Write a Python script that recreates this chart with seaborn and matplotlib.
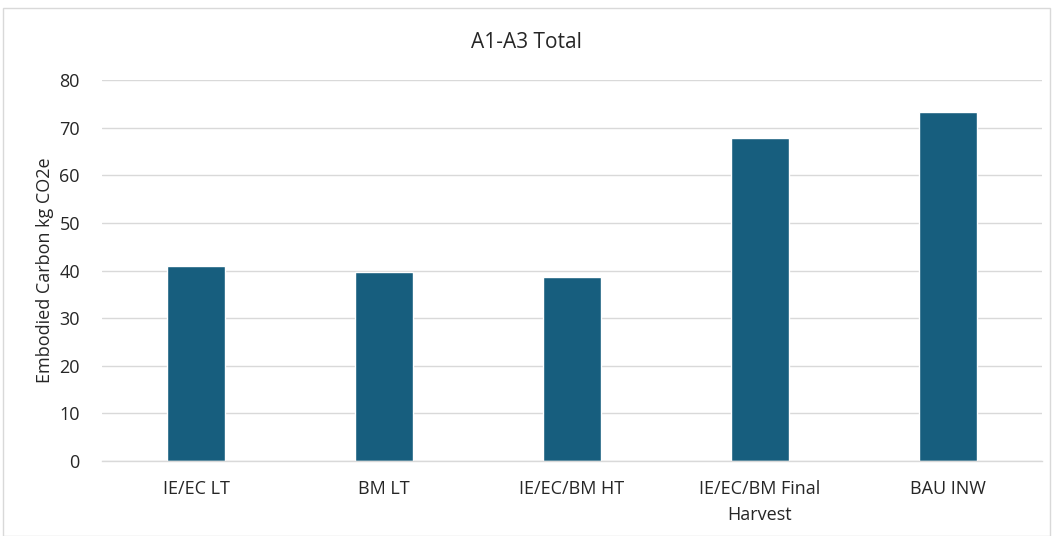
import pandas as pd
import seaborn as sns
import matplotlib.pyplot as plt
from matplotlib.patches import Rectangle

# ===================== DATA =====================
categories = ["IE/EC LT", "BM LT", "IE/EC/BM HT", "IE/EC/BM Final\nHarvest", "BAU INW"]
values = [41.0, 39.6, 38.6, 67.8, 73.2]
yticks = [0, 10, 20, 30, 40, 50, 60, 70, 80]

df = pd.DataFrame({"scenario": categories, "co2e": values})

# ===================== STYLE =====================
sns.set_style("white")
plt.rcParams["font.family"] = ["Open Sans", "DejaVu Sans"]

fig = plt.figure(figsize=(10.53, 5.36), dpi=100)
ax = fig.add_axes([0.0969, 0.1399, 0.8927, 0.7108])

sns.barplot(data=df, x="scenario", y="co2e", color="#175E7E",
            width=0.31, saturation=1, ax=ax)

ax.set_ylim(0, 80)
ax.set_xlim(-0.5, len(categories) - 0.5)
ax.set_yticks(yticks)
ax.yaxis.grid(True, color="#d9d9d9", linewidth=1)
ax.set_axisbelow(True)
for side in ["top", "right", "left"]:
    ax.spines[side].set_visible(False)
ax.spines["bottom"].set_color("#d9d9d9")
ax.spines["bottom"].set_linewidth(1)
ax.tick_params(axis="both", length=0, labelsize=13, colors="#262626")
ax.tick_params(axis="x", pad=14)
ax.tick_params(axis="y", pad=16)
for lbl in ax.get_xticklabels():
    lbl.set_multialignment("center")
    lbl.set_linespacing(1.55)
ax.set_xlabel("")
ax.set_ylabel("Embodied Carbon kg CO2e", fontsize=13, color="#262626", labelpad=4)
fig.suptitle("A1-A3 Total", y=0.94, fontsize=15, color="#262626")

# light chart-area border
fig.patches.append(Rectangle((0.003, 0.0), 0.994, 0.985, transform=fig.transFigure,
                             fill=False, edgecolor="#d9d9d9", linewidth=1))

fig.savefig("out.png", dpi=100)
